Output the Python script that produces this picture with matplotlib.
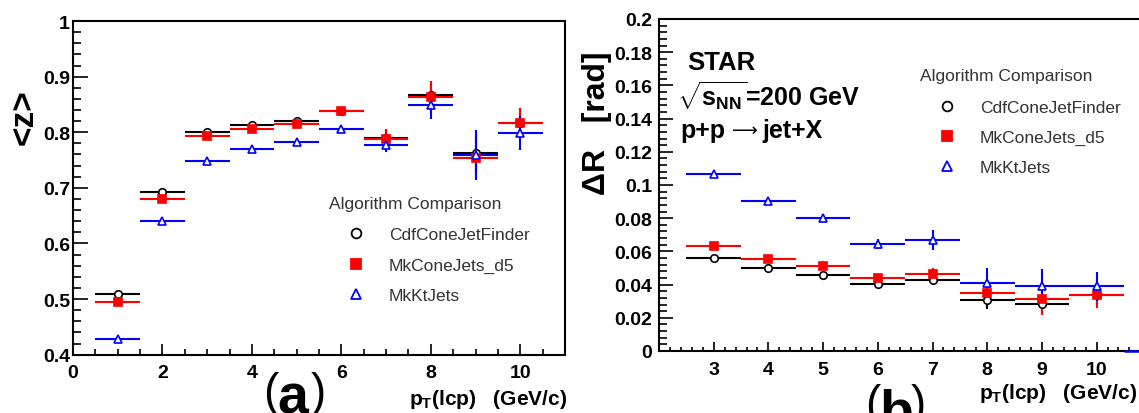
import numpy as np
import matplotlib.pyplot as plt
from matplotlib.lines import Line2D
from matplotlib.ticker import MultipleLocator

plt.rcParams['font.family'] = ['Liberation Sans', 'DejaVu Sans']
plt.rcParams['mathtext.fontset'] = 'custom'
plt.rcParams['mathtext.rm'] = 'Liberation Sans'
plt.rcParams['mathtext.bf'] = 'Liberation Sans:bold'
plt.rcParams['mathtext.default'] = 'bf'

# panel (a): <z> vs pT(lcp)
pt_a = [1, 2, 3, 4, 5, 6, 7, 8, 9, 10]
z_cdf = [0.509, 0.693, 0.801, 0.813, 0.821, 0.839, 0.789, 0.867, 0.762, 0.816]
z_cdf_err = [0.003, 0.003, 0.003, 0.003, 0.003, 0.005, 0.015, 0.026, 0.036, 0.027]
z_cone = [0.495, 0.680, 0.793, 0.806, 0.815, 0.838, 0.788, 0.863, 0.753, 0.816]
z_cone_err = [0.003, 0.003, 0.003, 0.003, 0.003, 0.005, 0.017, 0.029, 0.037, 0.028]
z_kt = [0.429, 0.641, 0.748, 0.770, 0.783, 0.806, 0.777, 0.849, 0.759, 0.799]
z_kt_err = [0.002, 0.002, 0.002, 0.002, 0.002, 0.004, 0.012, 0.026, 0.045, 0.031]

# panel (b): Delta R vs pT(lcp)
pt_b = [3, 4, 5, 6, 7, 8, 9, 10]
dr_cdf = [0.0562, 0.0498, 0.0458, 0.0406, 0.0430, 0.0305, 0.0283, 0.0335]
dr_cdf_err = [0.0008, 0.0008, 0.0008, 0.0010, 0.0020, 0.0050, 0.0060, 0.0060]
dr_cone = [0.0634, 0.0552, 0.0510, 0.0442, 0.0466, 0.0351, 0.0315, 0.0335]
dr_cone_err = [0.0008, 0.0008, 0.0008, 0.0020, 0.0035, 0.0070, 0.0100, 0.0075]
dr_kt = [0.1066, 0.0904, 0.0801, 0.0647, 0.0667, 0.0408, 0.0392, 0.0390]
dr_kt_err = [0.0008, 0.0008, 0.0010, 0.0030, 0.0060, 0.0090, 0.0104, 0.0086]
# empty last bin of MkKtJets
kt_empty_x = [11]
kt_empty_y = [0.0]

names = ['CdfConeJetFinder', 'MkConeJets_d5', 'MkKtJets']
colors = ['black', '#ff0000', '#0000ff']
markers = ['o', 's', '^']
faces = ['white', '#ff0000', 'white']

fig = plt.figure(figsize=(11.39, 4.14), dpi=100)
ax1 = fig.add_axes([0.0641, 0.1408, 0.432, 0.806])
ax2 = fig.add_axes([0.5786, 0.1498, 0.4322, 0.8019])


def draw(ax, x, series):
    for (y, e), c, m, f, n in zip(series, colors, markers, faces, names):
        ax.errorbar(x, y, xerr=0.5, yerr=e, fmt=m, color=c, mfc=f, mec=c,
                    ms=5.4, mew=1.2, elinewidth=1.5, capsize=0)


draw(ax1, pt_a, [(z_cdf, z_cdf_err), (z_cone, z_cone_err), (z_kt, z_kt_err)])
draw(ax2, pt_b, [(dr_cdf, dr_cdf_err), (dr_cone, dr_cone_err), (dr_kt, dr_kt_err)])
ax2.hlines(kt_empty_y, np.array(kt_empty_x) - 0.5, np.array(kt_empty_x) + 0.5,
           color='#0000ff', lw=1.8, clip_on=False, zorder=5)

ax1.set_xlim(0, 11)
ax1.set_ylim(0.4, 1.0)
ax2.set_xlim(2, 11)
ax2.set_ylim(0, 0.2)

ax1.xaxis.set_major_locator(MultipleLocator(2))
ax1.xaxis.set_minor_locator(MultipleLocator(0.5))
ax1.yaxis.set_minor_locator(MultipleLocator(0.02))
ax1.set_yticks([0.4, 0.5, 0.6, 0.7, 0.8, 0.9, 1.0], ['0.4', '0.5', '0.6', '0.7', '0.8', '0.9', '1'])

ax2.set_xticks([3, 4, 5, 6, 7, 8, 9, 10])
ax2.xaxis.set_minor_locator(MultipleLocator(0.2))
ax2.yaxis.set_minor_locator(MultipleLocator(0.004))
ax2.set_yticks(np.arange(0, 0.201, 0.02),
               ['0', '0.02', '0.04', '0.06', '0.08', '0.1', '0.12', '0.14', '0.16', '0.18', '0.2'])

for ax in (ax1, ax2):
    for s in ax.spines.values():
        s.set_linewidth(1.5)
    ax.tick_params(which='both', direction='in', top=False, right=False, width=1.2)
    ax.tick_params(which='major', labelsize=14)
    ax.tick_params(axis='y', which='minor', length=5.8)
    for lab in ax.get_xticklabels() + ax.get_yticklabels():
        lab.set_fontweight('bold')
ax1.tick_params(axis='y', which='major', length=10.8, pad=2.2)
ax1.tick_params(axis='x', which='major', length=8, pad=6.5)
ax1.tick_params(axis='x', which='minor', length=4)
ax2.tick_params(axis='y', which='major', length=10, pad=5)
ax2.tick_params(axis='x', which='major', length=6.5, pad=7.5)
ax2.tick_params(axis='x', which='minor', length=3.2)
ax2.spines['right'].set_visible(False)

handles = [Line2D([], [], ls='none', marker=m, color=c, mfc=f, mec=c, ms=7, mew=1.3)
           for c, m, f in zip(colors, markers, faces)]
leg_kw = dict(title='Algorithm Comparison', frameon=False, fontsize=12.5,
              title_fontsize=12.5, handlelength=3.1, handletextpad=0.35,
              labelspacing=0.86, alignment='left', borderaxespad=0, borderpad=0)
l1 = ax1.legend(handles, names, loc='upper left', bbox_to_anchor=(0.520, 0.4766), **leg_kw)
l2 = ax2.legend(handles, names, loc='upper left', bbox_to_anchor=(0.530, 0.852), **leg_kw)
for lg in (l1, l2):
    lg.get_title().set_color('#333333')
    for t in lg.get_texts():
        t.set_color('#333333')
    lg._legend_box.sep = 12

# axis titles, ROOT style
fig.text(0.0211, 0.7162, '<z>', rotation=90, ha='center', va='center',
         fontsize=24, fontweight='bold')
fig.text(0.5241, 0.7017, '\u0394R   [rad]', rotation=90, ha='center', va='center',
         fontsize=23, fontweight='bold')
fig.text(0.4978, 0.0217, r'p$_\mathbf{T}$(lcp)   (GeV/c)', ha='right', va='baseline',
         fontsize=15, fontweight='bold')
fig.text(0.998, 0.037, r'p$_\mathbf{T}$(lcp)   (GeV/c)', ha='right', va='baseline',
         fontsize=15, fontweight='bold')

# panel letters
fig.text(271 / 1139, 0.0193, '(', ha='center', va='baseline', fontsize=33)
fig.text(292.5 / 1139, 0.0, 'a', ha='center', va='baseline', fontsize=40, fontweight='bold')
fig.text(318.5 / 1139, 0.0193, ')', ha='center', va='baseline', fontsize=33)
fig.text(873 / 1139, -0.0097, '(', ha='center', va='baseline', fontsize=33)
fig.text(896.5 / 1139, -0.036, 'b', ha='center', va='baseline', fontsize=40, fontweight='bold')
fig.text(918.5 / 1139, -0.0097, ')', ha='center', va='baseline', fontsize=33)

fig.text(0.6032, 0.8309, 'STAR', ha='left', va='baseline', fontsize=18.5, fontweight='bold')
fig.text(0.5943, 0.7415, r'$\sqrt{s_{NN}}$=200 GeV', ha='left', va='baseline',
         fontsize=18, fontweight='bold')
fig.text(0.597, 0.6674, 'p+p', ha='left', va='baseline', fontsize=18, fontweight='bold')
fig.text(744.5 / 1139, 1 - 131 / 414, '\u27f6', ha='center', va='center',
         fontsize=13, family='DejaVu Sans')
fig.text(762.5 / 1139, 0.6674, 'jet+X', ha='left', va='baseline', fontsize=18, fontweight='bold')

fig.savefig('out.png', dpi=100)
